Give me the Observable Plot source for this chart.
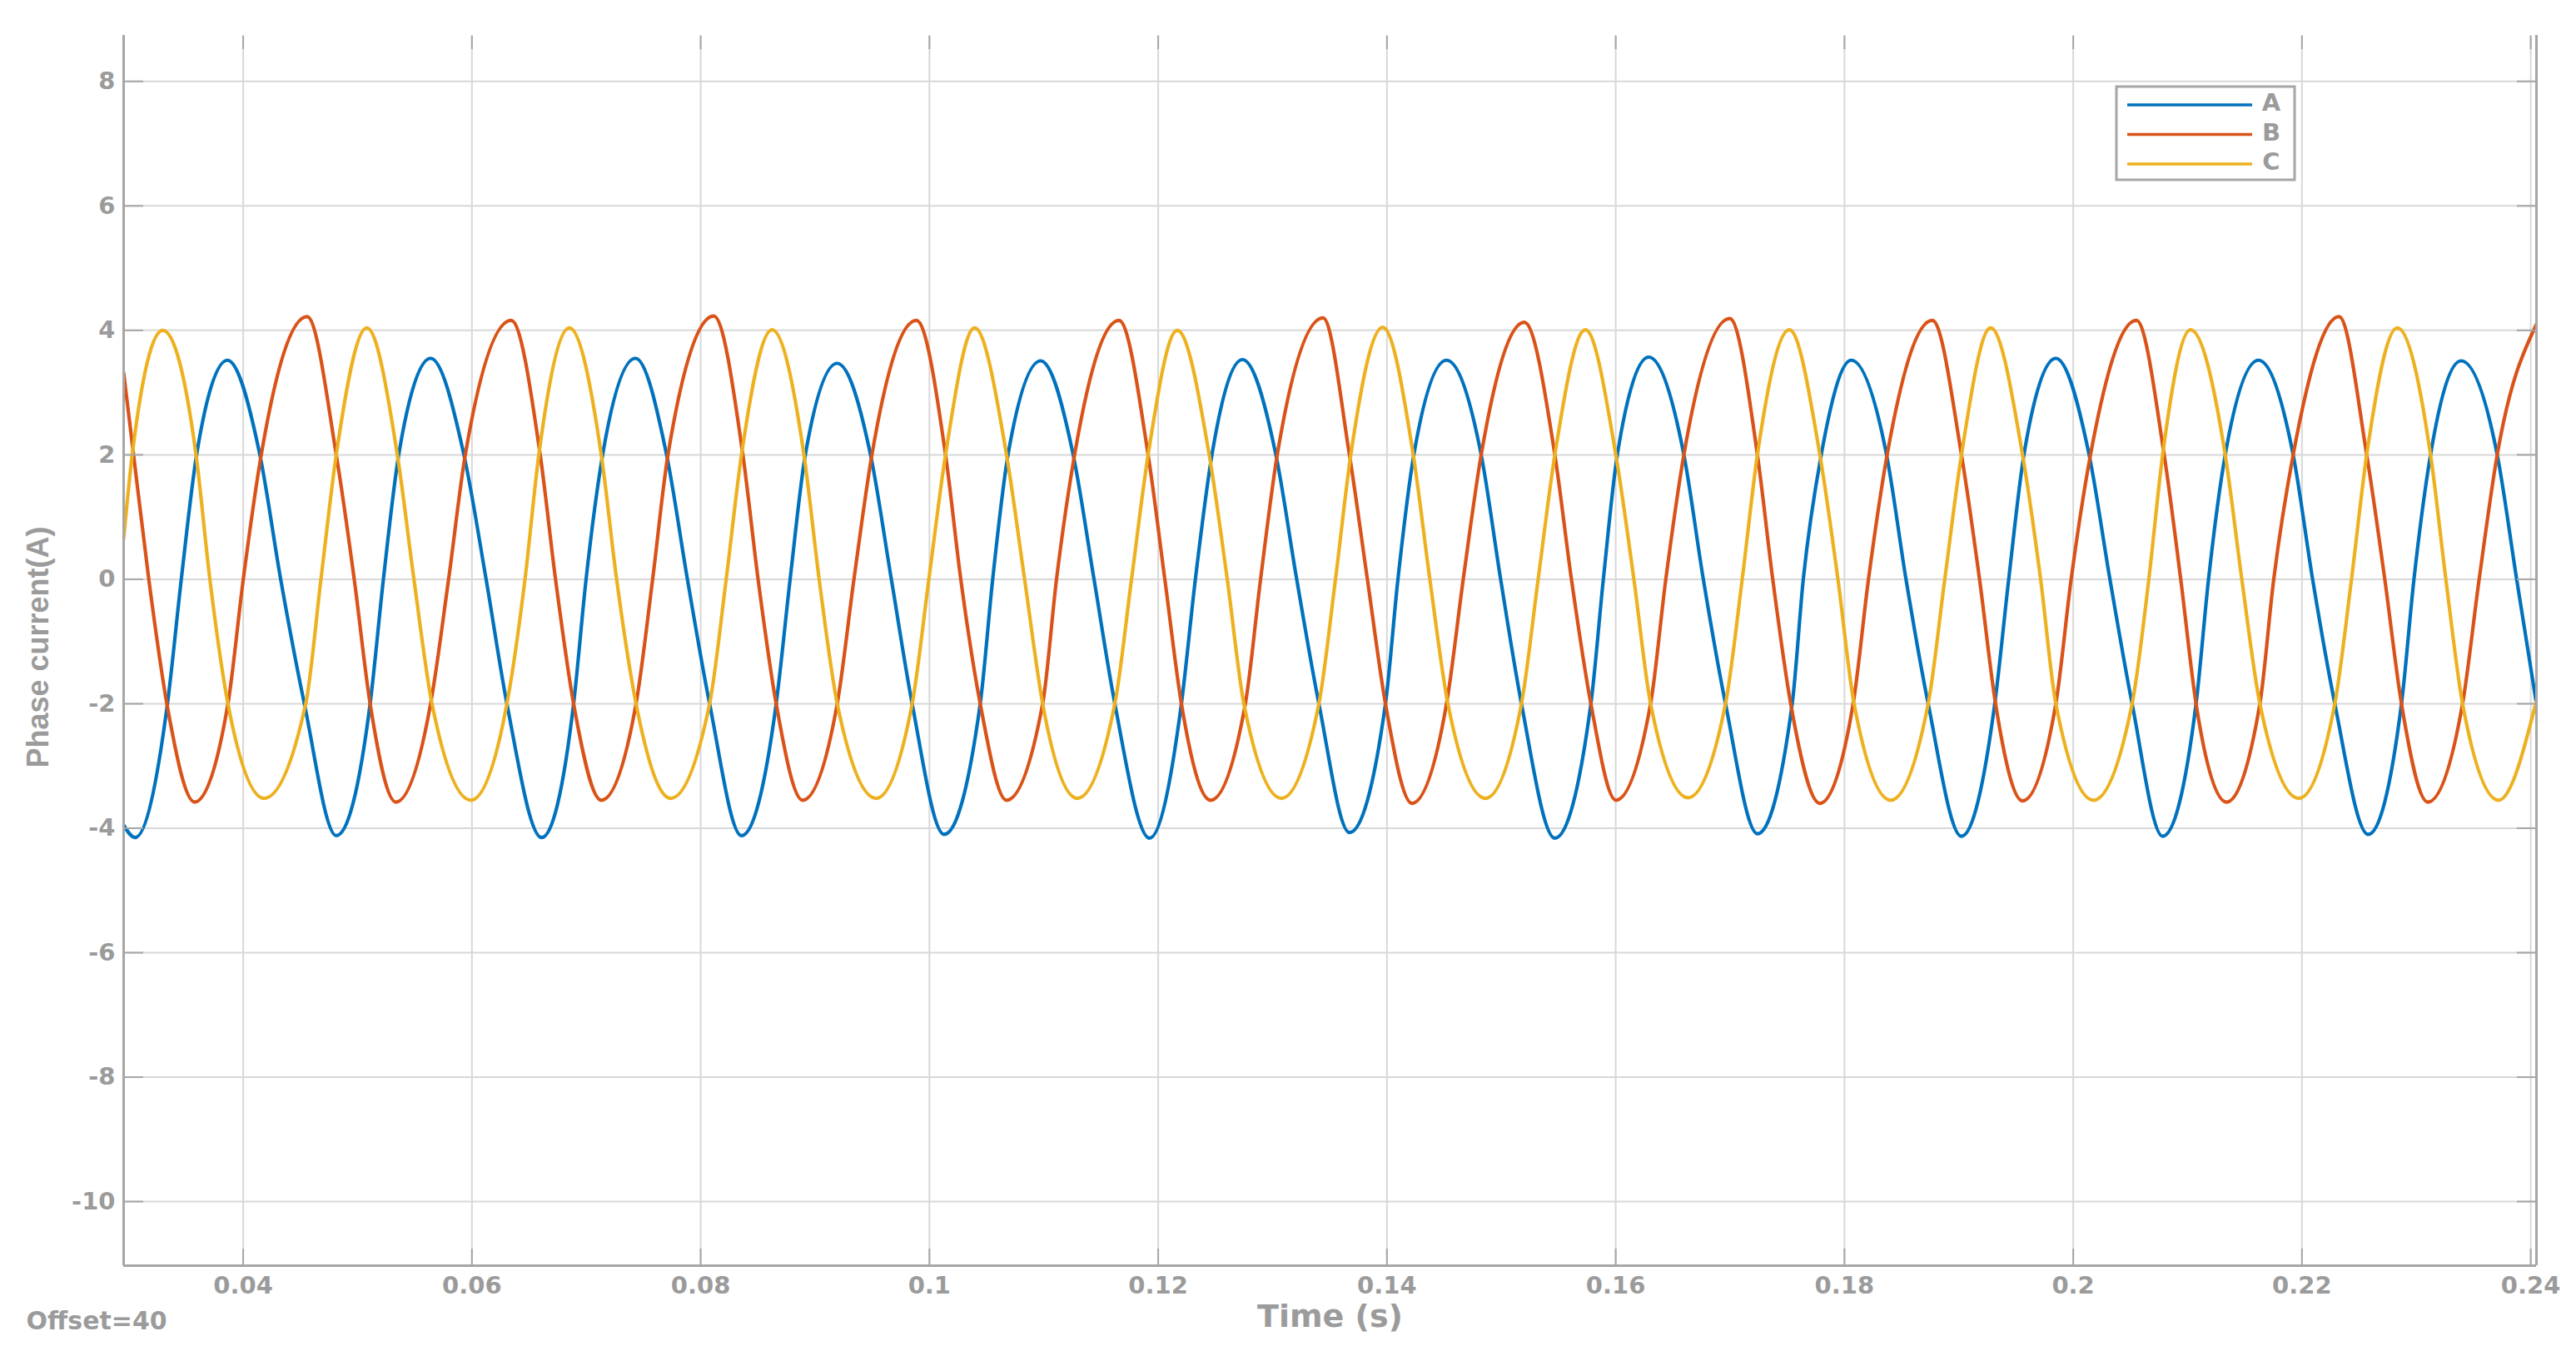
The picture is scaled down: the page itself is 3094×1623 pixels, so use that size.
<!DOCTYPE html>
<html>
<head>
<meta charset="utf-8">
<script src="https://cdn.jsdelivr.net/npm/d3@7"></script>
<script src="https://cdn.jsdelivr.net/npm/@observablehq/plot@0.6"></script>
<style>
  html, body { margin: 0; padding: 0; background: #ffffff; }
  #chart { width: 3094px; height: 1623px; }
</style>
</head>
<body>
<div id="chart"></div>
<script>
// ---- Data (time in s, current in A) ----
const seriesNames = ["A", "B", "C"];
const seriesColors = ["#0072BD", "#D95319", "#EDB120"];

const tA = [0.02955, 0.03054, 0.03338, 0.03459, 0.03593, 0.03862, 0.04146, 0.04328, 0.04535, 0.04814, 0.05110, 0.05226, 0.05360, 0.05639, 0.05930, 0.06124, 0.06306,
  0.06609, 0.06889, 0.06998, 0.07143, 0.07430, 0.07702, 0.07884, 0.08078, 0.08357, 0.08660, 0.08782, 0.08915, 0.09194, 0.09485, 0.09667, 0.09849,
  0.10128, 0.10444, 0.10553, 0.10687, 0.10973, 0.11257, 0.11439, 0.11621, 0.11924, 0.12203, 0.12325, 0.12470, 0.12737, 0.13029, 0.13211, 0.13405,
  0.13672, 0.13987, 0.14096, 0.14235, 0.14521, 0.14824, 0.14994, 0.15176, 0.15468, 0.15783, 0.15892, 0.16014, 0.16288, 0.16596, 0.16766, 0.16960,
  0.17239, 0.17543, 0.17640, 0.17797, 0.18059, 0.18368, 0.18538, 0.18732, 0.19023, 0.19314, 0.19436, 0.19569, 0.19848, 0.20139, 0.20321, 0.20515,
  0.20782, 0.21074, 0.21183, 0.21329, 0.21620, 0.21923, 0.22093, 0.22287, 0.22578, 0.22870, 0.22979, 0.23124, 0.23391, 0.23707, 0.23877, 0.2405];
const vA = [-3.95, -4.15, -2, 0, 2, 3.52, 2, 0, -2, -4.12, -2, 0, 2, 3.55, 2, 0, -2,
  -4.15, -2, 0, 2, 3.55, 2, 0, -2, -4.12, -2, 0, 2, 3.47, 2, 0, -2,
  -4.1, -2, 0, 2, 3.51, 2, 0, -2, -4.16, -2, 0, 2, 3.53, 2, 0, -2,
  -4.07, -2, 0, 2, 3.52, 2, 0, -2, -4.16, -2, 0, 2, 3.57, 2, 0, -2,
  -4.09, -2, 0, 2, 3.52, 2, 0, -2, -4.13, -2, 0, 2, 3.55, 2, 0, -2,
  -4.13, -2, 0, 2, 3.52, 2, 0, -2, -4.1, -2, 0, 2, 3.51, 2, 0, -2.0];

const tB = [0.02955, 0.03042, 0.03175, 0.03333, 0.03576, 0.03867, 0.04001, 0.04158, 0.04559, 0.04814, 0.04971, 0.05110, 0.05335, 0.05639, 0.05796, 0.05942, 0.06343,
  0.06597, 0.06731, 0.06889, 0.07131, 0.07435, 0.07580, 0.07714, 0.08114, 0.08369, 0.08502, 0.08660, 0.08891, 0.09194, 0.09340, 0.09497, 0.09886,
  0.10141, 0.10274, 0.10444, 0.10674, 0.10990, 0.11111, 0.11269, 0.11657, 0.11912, 0.12058, 0.12203, 0.12458, 0.12762, 0.12895, 0.13041, 0.13441,
  0.13672, 0.13829, 0.13987, 0.14218, 0.14521, 0.14667, 0.14824, 0.15201, 0.15468, 0.15613, 0.15783, 0.16001, 0.16305, 0.16438, 0.16596, 0.16997,
  0.17239, 0.17373, 0.17530, 0.17785, 0.18076, 0.18210, 0.18373, 0.18768, 0.19023, 0.19181, 0.19321, 0.19557, 0.19848, 0.19982, 0.20151, 0.20552,
  0.20795, 0.20940, 0.21074, 0.21341, 0.21632, 0.21753, 0.21923, 0.22324, 0.22566, 0.22724, 0.22870, 0.23100, 0.23404, 0.23549, 0.23707, 0.2405];
const vB = [3.32, 2, 0, -2, -3.58, -2, 0, 2, 4.22, 2, 0, -2, -3.58, -2, 0, 2, 4.16,
  2, 0, -2, -3.55, -2, 0, 2, 4.23, 2, 0, -2, -3.55, -2, 0, 2, 4.16,
  2, 0, -2, -3.55, -2, 0, 2, 4.16, 2, 0, -2, -3.55, -2, 0, 2, 4.2,
  2, 0, -2, -3.6, -2, 0, 2, 4.13, 2, 0, -2, -3.55, -2, 0, 2, 4.19,
  2, 0, -2, -3.6, -2, 0, 2, 4.16, 2, 0, -2, -3.56, -2, 0, 2, 4.16,
  2, 0, -2, -3.58, -2, 0, 2, 4.22, 2, 0, -2, -3.58, -2, 0, 2, 4.1];

const tC = [0.02955, 0.03030, 0.03297, 0.03588, 0.03709, 0.03867, 0.04183, 0.04547, 0.04680, 0.04814, 0.05081, 0.05348, 0.05493, 0.05651, 0.05991, 0.06306, 0.06464,
  0.06585, 0.06852, 0.07131, 0.07265, 0.07435, 0.07738, 0.08078, 0.08223, 0.08357, 0.08624, 0.08903, 0.09036, 0.09194, 0.09534, 0.09849, 0.09995,
  0.10141, 0.10395, 0.10674, 0.10832, 0.10990, 0.11293, 0.11621, 0.11767, 0.11912, 0.12167, 0.12446, 0.12604, 0.12749, 0.13077, 0.13405, 0.13550,
  0.13684, 0.13963, 0.14230, 0.14375, 0.14533, 0.14861, 0.15176, 0.15322, 0.15468, 0.15735, 0.16001, 0.16159, 0.16305, 0.16632, 0.16960, 0.17106,
  0.17239, 0.17518, 0.17785, 0.17943, 0.18084, 0.18404, 0.18732, 0.18877, 0.19023, 0.19278, 0.19557, 0.19715, 0.19848, 0.20176, 0.20515, 0.20661,
  0.20782, 0.21025, 0.21329, 0.21474, 0.21632, 0.21972, 0.22287, 0.22433, 0.22566, 0.22833, 0.23124, 0.23258, 0.23404, 0.23719, 0.2405];
const vC = [0.65, 2, 4.0, 2, 0, -2, -3.52, -2, 0, 2, 4.04, 2, 0, -2, -3.55, -2, 0,
  2, 4.04, 2, 0, -2, -3.52, -2, 0, 2, 4.01, 2, 0, -2, -3.52, -2, 0,
  2, 4.04, 2, 0, -2, -3.52, -2, 0, 2, 4.0, 2, 0, -2, -3.52, -2, 0,
  2, 4.05, 2, 0, -2, -3.52, -2, 0, 2, 4.01, 2, 0, -2, -3.51, -2, 0,
  2, 4.01, 2, 0, -2, -3.55, -2, 0, 2, 4.04, 2, 0, -2, -3.55, -2, 0,
  2, 4.01, 2, 0, -2, -3.52, -2, 0, 2, 4.04, 2, 0, -2, -3.55, -1.95];

const xTicks = [0.04, 0.06, 0.08, 0.1, 0.12, 0.14, 0.16, 0.18, 0.2, 0.22, 0.24];
const yTicks = [-10, -8, -6, -4, -2, 0, 2, 4, 6, 8];
const xDomain = [0.02955, 0.2405];
const yDomain = [-11.03, 8.74];
const xLabel = "Time (s)";
const yLabel = "Phase current(A)";
const offsetNote = "Offset=40";

// ---- Build table ----
const times = [tA, tB, tC];
const values = [vA, vB, vC];
const data = [];
seriesNames.forEach((name, s) => {
  const n = Math.min(times[s].length, values[s].length);
  for (let i = 0; i < n; i++) data.push({series: name, t: times[s][i], v: values[s][i]});
});

const textGray = "#9b9b9b";
const axisGray = "#a6a6a6";
const gridGray = "#d8d8d8";
const fmtX = d => String(+d.toFixed(2));

const chart = Plot.plot({
  width: 3094,
  height: 1623,
  marginLeft: 148,
  marginRight: 48,
  marginTop: 42,
  marginBottom: 103,
  style: {fontFamily: "DejaVu Sans", fontWeight: "bold", fontSize: "29px", background: "#ffffff", overflow: "visible"},
  x: {domain: xDomain},
  y: {domain: yDomain},
  color: {domain: seriesNames, range: seriesColors},
  marks: [
    Plot.gridX(xTicks, {stroke: gridGray, strokeOpacity: 1, strokeWidth: 2}),
    Plot.gridY(yTicks, {stroke: gridGray, strokeOpacity: 1, strokeWidth: 2}),
    Plot.line(data, {x: "t", y: "v", z: "series", stroke: "series", curve: "monotone-x", strokeWidth: 4.2, clip: true}),
    // axis lines (left, right, bottom)
    Plot.ruleX(xDomain, {stroke: axisGray, strokeWidth: 3}),
    Plot.ruleY([yDomain[0]], {stroke: axisGray, strokeWidth: 3}),
    // inward ticks
    Plot.axisX(xTicks, {anchor: "bottom", tickSize: -20, tickFormat: () => "", label: null, color: axisGray, strokeWidth: 2}),
    Plot.axisX(xTicks, {anchor: "top", tickSize: -16, tickFormat: () => "", label: null, color: axisGray, strokeWidth: 2}),
    Plot.axisY(yTicks, {anchor: "left", tickSize: -24, tickFormat: () => "", label: null, color: axisGray, strokeWidth: 2}),
    Plot.axisY(yTicks, {anchor: "right", tickSize: -24, tickFormat: () => "", label: null, color: axisGray, strokeWidth: 2}),
    // tick labels
    Plot.axisX(xTicks, {anchor: "bottom", tickSize: 0, tickPadding: 13, tickFormat: fmtX, label: null, color: textGray, fontSize: 29, fontWeight: "bold"}),
    Plot.axisY(yTicks, {anchor: "left", tickSize: 0, tickPadding: 10, tickFormat: d => String(d), label: null, color: textGray, fontSize: 29, fontWeight: "bold"}),
    // axis titles and note
    Plot.text([xLabel], {text: d => d, frameAnchor: "bottom", textAnchor: "middle", dy: 61, lineAnchor: "middle", fontSize: 38, fontWeight: "bold", fill: textGray}),
    Plot.text([yLabel], {text: d => d, frameAnchor: "left", textAnchor: "middle", dx: -102, dy: -4, rotate: -90, lineAnchor: "middle", fontSize: 36, fontFamily: "Liberation Sans", fontWeight: "bold", fill: textGray}),
    Plot.text([offsetNote], {text: d => d, frameAnchor: "bottom-left", textAnchor: "start", dx: -117, dy: 67, lineAnchor: "middle", fontSize: 30, fontWeight: "bold", fill: textGray})
  ]
});

// ---- Legend box (top right, inside the axes) ----
const svg = d3.select(chart);
const lg = svg.append("g").attr("class", "legend");
lg.append("rect")
  .attr("x", 2542).attr("y", 104).attr("width", 214).attr("height", 112)
  .attr("fill", "#ffffff").attr("stroke", axisGray).attr("stroke-width", 3);
seriesNames.forEach((name, i) => {
  const y = 126 + i * 35.5;
  lg.append("line")
    .attr("x1", 2555).attr("x2", 2705).attr("y1", y).attr("y2", y)
    .attr("stroke", seriesColors[i]).attr("stroke-width", 3.5);
  lg.append("text")
    .attr("x", 2728).attr("y", y - 3).attr("dy", "0.36em")
    .attr("text-anchor", "middle")
    .attr("font-family", "DejaVu Sans").attr("font-weight", "bold").attr("font-size", 29)
    .attr("fill", textGray)
    .text(name);
});

document.getElementById("chart").appendChild(chart);
</script>
</body>
</html>
